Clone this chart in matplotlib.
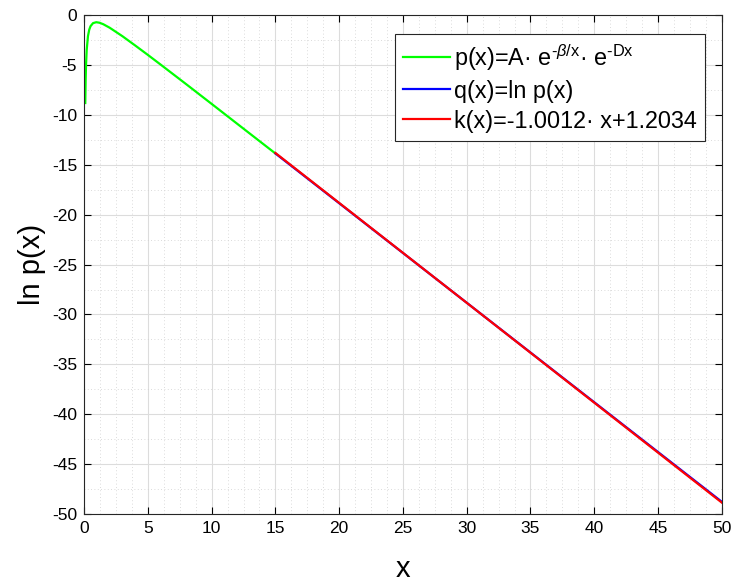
import matplotlib
matplotlib.use('Agg')
import matplotlib.pyplot as plt
from matplotlib.ticker import MultipleLocator

plt.rcParams['font.family'] = ['Liberation Sans', 'DejaVu Sans']
plt.rcParams['mathtext.fontset'] = 'custom'
plt.rcParams['mathtext.rm'] = 'Liberation Sans'
plt.rcParams['mathtext.it'] = 'Liberation Sans:italic'
plt.rcParams['mathtext.default'] = 'regular'
plt.rcParams['axes.unicode_minus'] = False

# p(x) 曲线 (读图得到的点)
x_p = [0.09, 0.12, 0.15, 0.2, 0.3, 0.4, 0.5, 0.7, 0.95, 1.2, 1.5, 2, 3, 4, 5,
       6, 8, 10, 12, 15]
y_p = [-8.8, -6.42, -4.95, -3.5, -2.1, -1.45, -1.1, -0.79, -0.70, -0.75, -0.9,
       -1.25, -2.1, -3.03, -3.98, -4.95, -6.91, -8.89, -10.88, -13.86]

# q(x) = ln p(x), 15 到 50
x_q = [15, 50]
y_q = [-13.86, -48.78]

# k(x) 拟合直线
x_k = [15, 50]
y_k = [-13.81, -48.86]

labels = [r'p(x)=A· e$^{\text{-}\mathit{\beta}/x}$· e$^{\text{-Dx}}$',
          'q(x)=ln p(x)',
          'k(x)=-1.0012· x+1.2034']

fig = plt.figure(figsize=(7.38, 5.86), dpi=100)
ax = fig.add_axes([0.114, 0.123, 0.864, 0.851])

ax.plot(x_p, y_p, color='#00ff00', lw=1.6, label=labels[0])
ax.plot(x_q, y_q, color='#0000ff', lw=1.6, label=labels[1])
ax.plot(x_k, y_k, color='#ff0000', lw=1.6, label=labels[2])

ax.set_xlim(0, 50)
ax.set_ylim(-50, 0)
ax.xaxis.set_major_locator(MultipleLocator(5))
ax.yaxis.set_major_locator(MultipleLocator(5))
ax.xaxis.set_minor_locator(MultipleLocator(1.25))
ax.yaxis.set_minor_locator(MultipleLocator(2.5))

ax.grid(which='major', color='#dcdcdc', lw=0.8, ls='-')
ax.grid(which='minor', color='#cfcfcf', lw=0.6, ls=(0, (1, 3)))
ax.set_axisbelow(True)

ax.tick_params(which='major', direction='in', length=5, width=0.8,
               top=True, right=True, labelsize=12.5, pad=5)
ax.tick_params(which='minor', length=0)
for s in ax.spines.values():
    s.set_color('#262626')
    s.set_linewidth(0.8)

ax.set_xlabel('x', fontsize=21, labelpad=14)
ax.set_ylabel('ln p(x)', fontsize=21, labelpad=4)

leg = ax.legend(loc='upper right', bbox_to_anchor=(0.973, 0.963),
                fontsize=16.8, frameon=True, fancybox=False, framealpha=1,
                edgecolor='#262626', handlelength=2.0, handletextpad=0.15,
                labelspacing=0.3, borderpad=0.35, borderaxespad=0)
leg.get_frame().set_linewidth(0.8)

fig.savefig('out.png', dpi=100)
